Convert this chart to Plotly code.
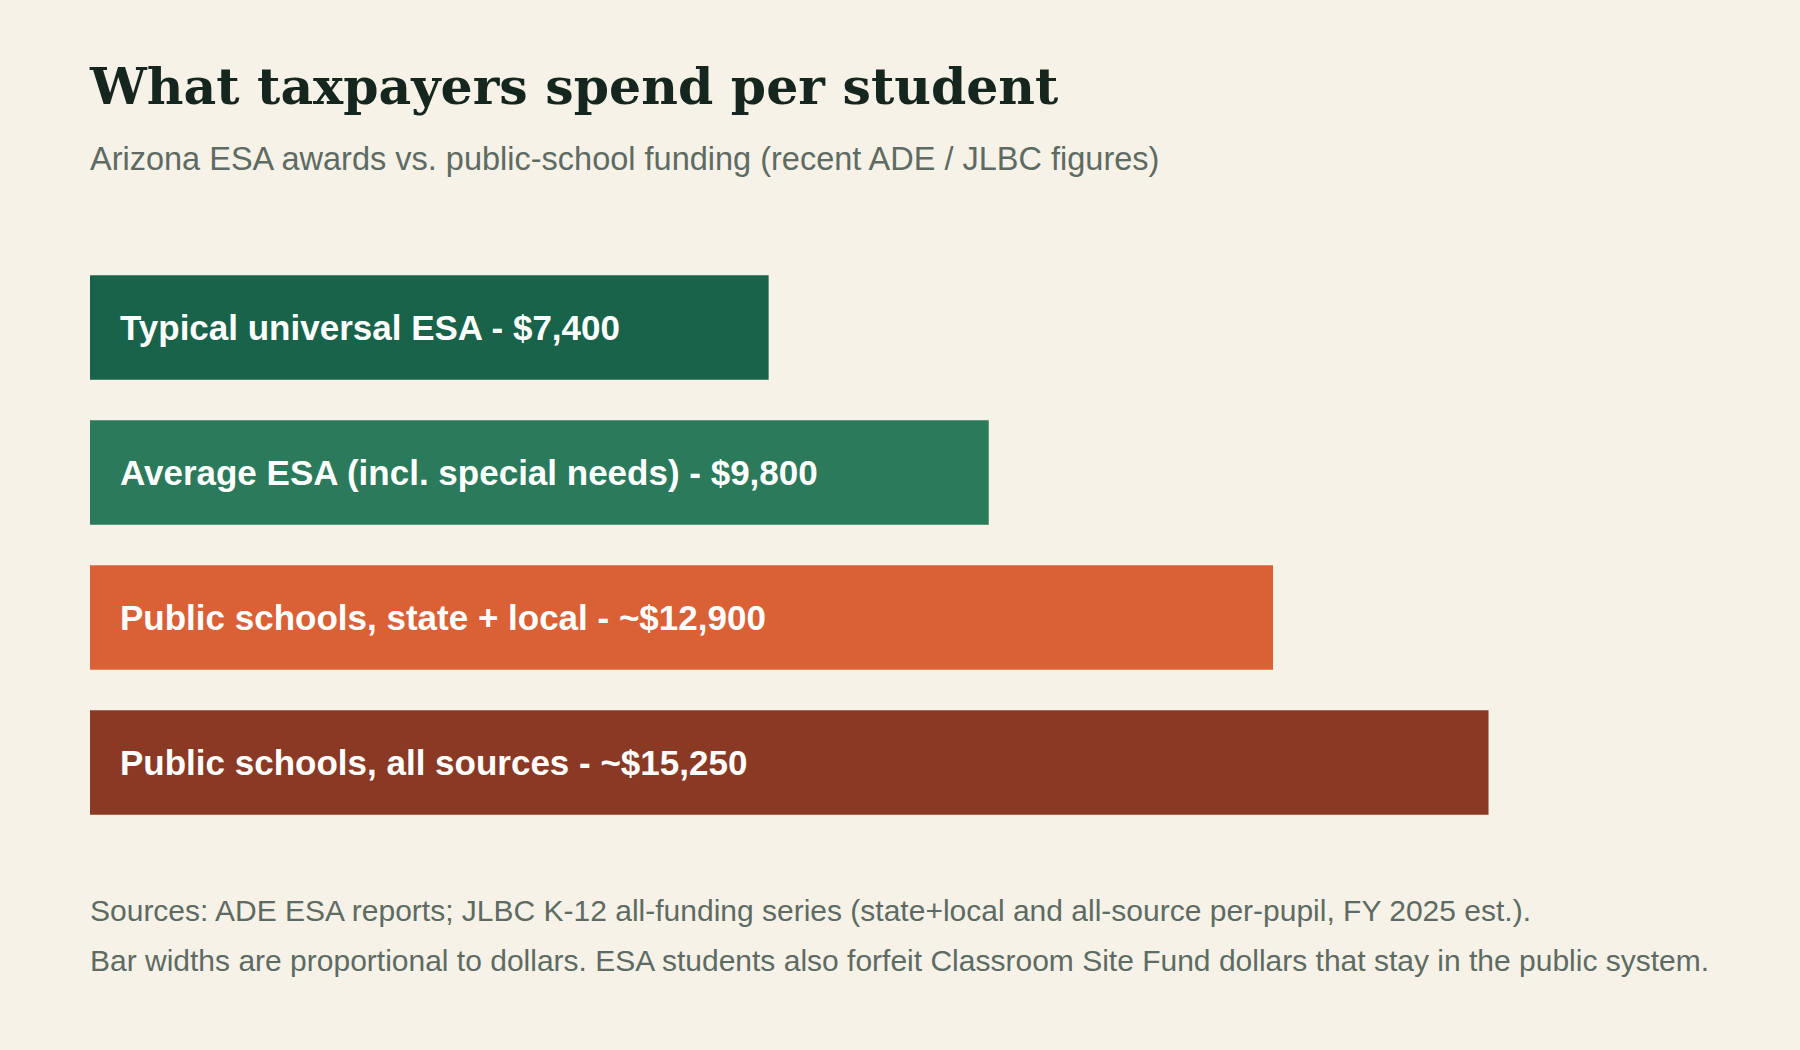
"""Horizontal bar comparison: Arizona ESA awards vs. public-school funding."""

import plotly.graph_objects as go

# data
categories = [
    "Typical universal ESA",
    "Average ESA (incl. special needs)",
    "Public schools, state + local",
    "Public schools, all sources",
]
dollars = [7400, 9800, 12900, 15250]
prefixes = ["", "", "~", "~"]
bar_colors = ["#18634a", "#2a7a5b", "#da6136", "#8a3a24"]

title = "What taxpayers spend per student"
subtitle = "Arizona ESA awards vs. public-school funding (recent ADE / JLBC figures)"
notes = [
    "Sources: ADE ESA reports; JLBC K-12 all-funding series (state+local and all-source per-pupil, FY 2025 est.).",
    "Bar widths are proportional to dollars. ESA students also forfeit Classroom Site Fund dollars that stay in the public system.",
]

BG = "#f6f2e8"
SANS = "Liberation Sans, Arial, sans-serif"

fig = go.Figure(
    go.Bar(
        x=dollars,
        y=categories,
        orientation="h",
        marker=dict(color=bar_colors, line=dict(width=0)),
        hoverinfo="skip",
    )
)

# labels inside the bars
for cat, val, pre in zip(categories, dollars, prefixes):
    fig.add_annotation(
        x=0, y=cat, xref="x", yref="y",
        text=f"<b>{cat} - {pre}${val:,}</b>",
        showarrow=False, xanchor="left", yanchor="middle", xshift=28,
        font=dict(family=SANS, size=35, color="#ffffff"),
    )

fig.add_annotation(
    x=0, y=1.166, xref="paper", yref="paper", text=subtitle,
    showarrow=False, xanchor="left", yanchor="middle", xshift=-2,
    font=dict(family=SANS, size=32.5, color="#5e6b62"),
)
for i, note in enumerate(notes):
    fig.add_annotation(
        x=0, y=-0.130 - 0.086 * i, xref="paper", yref="paper", text=note,
        showarrow=False, xanchor="left", yanchor="middle", xshift=-2,
        font=dict(family=SANS, size=30, color="#5e6b62"),
    )

fig.update_layout(
    width=1800,
    height=1050,
    paper_bgcolor=BG,
    plot_bgcolor=BG,
    margin=dict(l=90, r=90, t=255, b=215),
    bargap=0.28,
    showlegend=False,
    title=dict(
        text=f"<b>{title}</b>",
        x=0, xref="paper", xanchor="left",
        y=1 - 86 / 1050, yref="container", yanchor="middle",
        font=dict(family="DejaVu Serif, Georgia, serif", size=50.5, color="#15261f"),
    ),
    xaxis=dict(range=[0, 17665], visible=False, fixedrange=True),
    yaxis=dict(autorange="reversed", visible=False, fixedrange=True),
)

# drop the default page margin so the figure sits flush in the window
fig.write_html(
    "out.html",
    config={"displayModeBar": False},
    post_script=f"document.body.style.margin='0';document.body.style.background='{BG}';",
)
